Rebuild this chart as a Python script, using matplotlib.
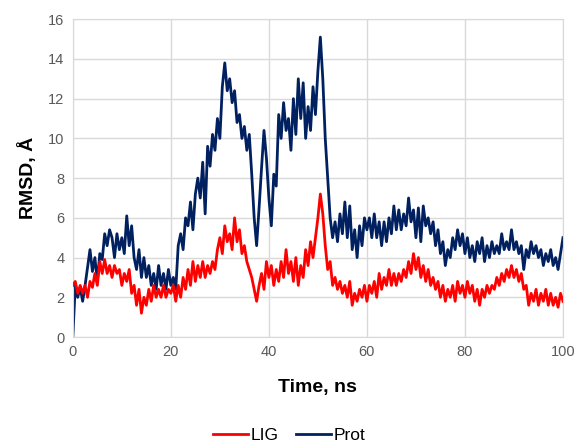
import numpy as np
import matplotlib.pyplot as plt

plt.rcParams['font.family'] = ['Liberation Sans', 'DejaVu Sans']

# time axis, 0.5 ns steps
time_ns = np.arange(0, 100.5, 0.5)

# RMSD values (Angstrom)
lig = [2.6, 2.8, 2.2, 2.6, 2.2, 2.6, 2.0, 2.8, 2.5, 3.2,
       2.6, 3.8, 3.2, 3.9, 3.2, 3.6, 3.0, 3.6, 3.2, 3.4,
       2.6, 3.2, 2.8, 3.4, 2.2, 2.6, 1.6, 2.4, 1.2, 2.0,
       1.6, 2.4, 1.8, 2.6, 2.0, 2.4, 2.0, 2.6, 2.0, 2.4,
       2.2, 2.6, 1.8, 2.6, 2.0, 3.0, 2.4, 3.4, 2.6, 3.8,
       2.8, 3.6, 3.0, 3.8, 3.0, 3.6, 3.2, 3.8, 3.4, 4.4,
       5.0, 4.2, 5.6, 4.8, 5.2, 4.4, 6.0, 4.8, 5.4, 4.2,
       4.6, 3.8, 3.4, 3.0, 2.4, 1.8, 2.6, 3.2, 2.4, 3.8,
       3.0, 3.6, 2.6, 3.4, 2.8, 3.8, 3.0, 4.4, 3.2, 3.8,
       2.8, 4.0, 2.6, 3.6, 3.0, 4.4, 3.6, 4.8, 4.0, 5.0,
       6.0, 7.2, 6.2, 4.6, 3.4, 3.8, 2.6, 3.0, 2.4, 2.8,
       2.2, 2.6, 2.0, 2.8, 1.6, 2.2, 1.8, 2.4, 2.0, 2.6,
       1.8, 2.6, 2.2, 2.8, 2.0, 3.2, 2.4, 3.0, 2.6, 3.4,
       2.6, 3.2, 2.6, 3.2, 2.8, 3.4, 3.0, 3.8, 3.2, 4.2,
       3.4, 4.0, 3.0, 3.6, 2.8, 3.4, 2.6, 3.0, 2.4, 2.8,
       2.0, 2.6, 1.8, 2.4, 2.0, 2.6, 1.8, 2.8, 2.2, 2.6,
       2.0, 2.8, 2.2, 2.6, 1.8, 2.4, 1.6, 2.4, 2.0, 2.6,
       2.2, 2.6, 2.4, 3.0, 2.6, 3.2, 2.8, 3.4, 3.0, 3.6,
       3.0, 3.4, 2.8, 3.2, 2.4, 2.6, 1.6, 2.2, 1.8, 2.4,
       1.6, 2.2, 1.8, 2.4, 1.6, 2.2, 1.6, 2.0, 1.5, 2.2,
       1.8]

prot = [0.0, 2.6, 2.0, 2.5, 1.8, 2.6, 3.5, 4.4, 3.3, 4.0,
        2.8, 4.2, 3.9, 5.2, 4.6, 5.4, 5.0, 4.0, 5.2, 4.4,
        5.0, 4.2, 6.1, 4.6, 5.6, 4.0, 3.4, 4.4, 3.0, 4.0,
        3.0, 3.6, 2.6, 3.2, 2.4, 3.6, 2.6, 3.2, 2.4, 3.4,
        2.6, 3.0, 2.4, 4.6, 5.2, 4.4, 6.0, 5.6, 6.8, 5.4,
        7.2, 8.0, 7.0, 8.8, 6.2, 9.6, 8.6, 10.2, 9.4, 11.0,
        10.0, 12.6, 13.8, 12.4, 13.0, 11.8, 12.4, 10.8, 11.2, 10.0,
        10.6, 9.4, 10.2, 8.2, 6.0, 4.6, 6.5, 8.5, 10.4, 9.0,
        7.0, 5.6, 8.2, 7.6, 11.2, 10.0, 11.8, 10.4, 11.0, 9.4,
        12.0, 10.2, 13.0, 11.0, 12.8, 10.0, 11.6, 10.4, 12.6, 11.2,
        13.4, 15.1, 13.0, 10.0, 8.0, 6.0, 5.0, 5.8, 4.8, 6.2,
        5.2, 6.8, 5.0, 6.6, 4.4, 5.4, 4.0, 5.6, 4.6, 6.0,
        5.4, 6.0, 5.0, 6.2, 5.0, 5.8, 4.6, 5.8, 4.8, 6.0,
        5.2, 6.6, 5.4, 6.4, 5.4, 6.2, 5.6, 7.0, 5.8, 6.4,
        5.0, 6.5, 4.8, 6.6, 5.6, 6.0, 5.2, 5.8, 4.6, 5.4,
        4.2, 4.8, 3.6, 4.4, 4.0, 5.0, 4.4, 5.4, 4.6, 5.2,
        4.2, 5.0, 4.0, 4.6, 3.8, 4.8, 4.2, 5.0, 3.8, 4.6,
        4.0, 4.8, 4.2, 4.6, 4.2, 5.2, 4.4, 4.8, 4.4, 5.4,
        4.4, 4.8, 4.2, 4.6, 3.4, 4.4, 4.0, 4.8, 4.2, 4.6,
        4.0, 4.4, 3.6, 4.2, 3.8, 4.4, 3.6, 4.0, 3.4, 4.2,
        5.0]

fig = plt.figure(figsize=(5.78, 4.47), dpi=100)
ax = fig.add_axes([0.126, 0.246, 0.848, 0.711])

ax.plot(time_ns, prot, color='#002060', lw=2.0, label='Prot', zorder=2)
ax.plot(time_ns, lig, color='#ff0000', lw=2.0, label='LIG', zorder=3)

ax.set_xlim(0, 100)
ax.set_ylim(0, 16)
ax.set_xticks(range(0, 101, 20))
ax.set_yticks(range(0, 17, 2))
ax.grid(True, color='#d9d9d9', lw=1)
ax.set_axisbelow(True)
for s in ax.spines.values():
    s.set_color('#d9d9d9')
ax.tick_params(length=0, labelsize=10.5, colors='#595959', pad=6)

ax.set_xlabel('Time, ns', fontsize=14, fontweight='bold', labelpad=14)
ax.set_ylabel('RMSD, Å', fontsize=14, fontweight='bold', labelpad=8)

h, l = ax.get_legend_handles_labels()
fig.legend(h[::-1], l[::-1], loc='center', bbox_to_anchor=(0.5, 0.025),
           ncol=2, frameon=False, fontsize=12.5, handlelength=2.0,
           columnspacing=1.0, handletextpad=0.15)

fig.savefig('out.png', dpi=100)
